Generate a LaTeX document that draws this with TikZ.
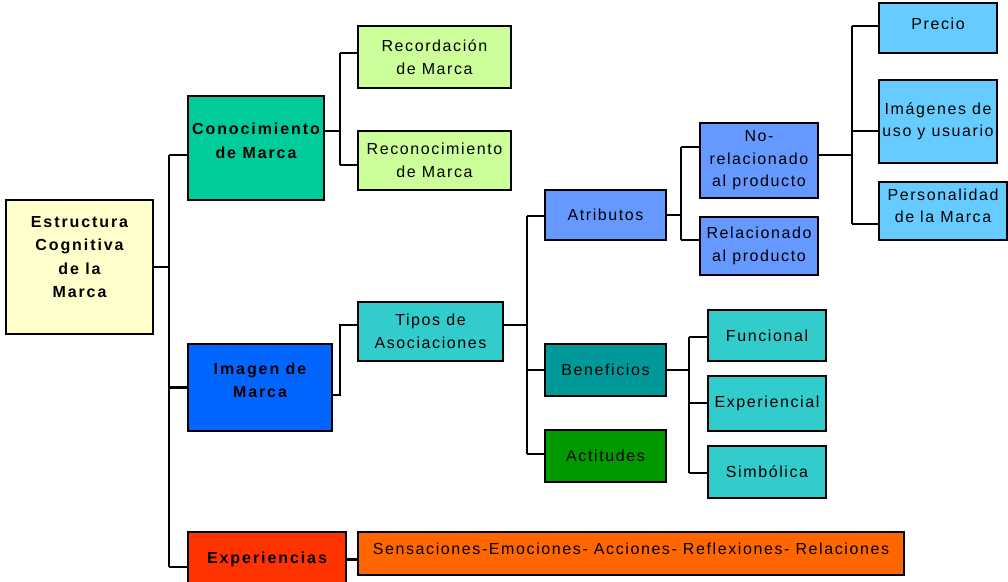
\documentclass[tikz,border=0pt]{standalone}
\usepackage{fontspec}
\setmainfont{Liberation Sans}
\newfontfamily\rfont[LetterSpace=10]{Liberation Sans}
\newfontfamily\lfont[LetterSpace=12]{Liberation Sans}
\usetikzlibrary{calc}
\definecolor{cRoot}{HTML}{FFFFCC}
\definecolor{cConoc}{HTML}{00CC99}
\definecolor{cLime}{HTML}{CCFF99}
\definecolor{cImagen}{HTML}{0066FF}
\definecolor{cTeal}{HTML}{33CCCC}
\definecolor{cAtrib}{HTML}{6699FF}
\definecolor{cSky}{HTML}{66CCFF}
\definecolor{cBenef}{HTML}{009999}
\definecolor{cActit}{HTML}{009900}
\definecolor{cExper}{HTML}{FF3300}
\definecolor{cSens}{HTML}{FF6600}
\begin{document}
\begin{tikzpicture}[x=1pt,y=-1pt,
  box/.style={draw=black, line width=2.7pt, inner sep=0pt, outer sep=0pt, anchor=north west, align=center,
    font=\rfont\fontsize{16}{22.5}\selectfont},
  lbox/.style={box, font=\lfont\bfseries\fontsize{16}{23.5}\selectfont},
  rtxt/.style={align=center, inner sep=0pt, font=\rfont\fontsize{16}{22.5}\selectfont},
  ltxt/.style={align=center, inner sep=0pt, font=\lfont\bfseries\fontsize{16}{23.5}\selectfont},
  conn/.style={draw=black, line width=2.7pt, line join=miter}]
\useasboundingbox (0,0) rectangle (1008,581);
% boxes
\node[lbox, fill=cRoot, minimum width=147, minimum height=134] (root) at (6,200) {};
\node[ltxt] (rootT) at ($(root.center)+(0,-10)$) {Estructura\\Cognitiva\\de la\\Marca};
\node[lbox, fill=cConoc, minimum width=136, minimum height=104] (conoc) at (188,96) {};
\node[ltxt] (conocT) at ($(conoc.center)+(0,-7)$) {Conocimiento\\de Marca};
\node[box, fill=cLime, minimum width=153, minimum height=62] (recor) at (358,26) {Recordación\\de Marca};
\node[box, fill=cLime, minimum width=153, minimum height=59] (recon) at (358,131) {Reconocimiento\\de Marca};
\node[lbox, fill=cImagen, minimum width=144, minimum height=87] (imagen) at (188,344) {};
\node[ltxt] (imagenT) at ($(imagen.center)+(0,-7)$) {Imagen de\\Marca};
\node[box, fill=cTeal, minimum width=145, minimum height=59] (tipos) at (358,302) {Tipos de\\Asociaciones};
\node[box, fill=cAtrib, minimum width=121, minimum height=50] (atrib) at (545,190) {Atributos};
\node[box, fill=cAtrib, minimum width=118, minimum height=75] (norel) at (700,123) {No-\\relacionado\\al producto};
\node[box, fill=cAtrib, minimum width=118, minimum height=58] (relac) at (700,217) {Relacionado\\al producto};
\node[box, fill=cSky, minimum width=118, minimum height=50] (precio) at (879,3) {};
\node[rtxt] (precioT) at ($(precio.center)+(0,-4)$) {Precio};
\node[box, fill=cSky, minimum width=118, minimum height=83] (imagenes) at (879,80) {Imágenes de\\uso y usuario};
\node[box, fill=cSky, minimum width=128, minimum height=58] (person) at (879,182) {};
\node[rtxt] (personT) at ($(person.center)+(0,-5)$) {Personalidad\\de la Marca};
\node[box, fill=cBenef, minimum width=121, minimum height=52] (benef) at (545,344) {Beneficios};
\node[box, fill=cActit, minimum width=121, minimum height=52] (actit) at (545,430) {Actitudes};
\node[box, fill=cTeal, minimum width=118, minimum height=51] (func) at (708,310) {Funcional};
\node[box, fill=cTeal, minimum width=118, minimum height=55] (experi) at (708,376) {Experiencial};
\node[box, fill=cTeal, minimum width=118, minimum height=52] (simb) at (708,446) {Simbólica};
\node[lbox, fill=cExper, minimum width=158, minimum height=55] (exper) at (188,532) {Experiencias};
\node[box, fill=cSens, minimum width=546, minimum height=43] (sens) at (358,532) {};
\node[rtxt] (sensT) at ($(sens.center)+(0,-5)$) {Sensaciones-Emociones- Acciones- Reflexiones- Relaciones};
% root connectors
\coordinate (r1) at (169,155);
\coordinate (r2) at (169,567);
\draw[conn] (root.east) -- (root.east -| r1);
\draw[conn] (r1) -- (r2);
\draw[conn] (r1) -- (r1 -| conoc.west);
\draw[conn] (imagen.west -| r1) -- (imagen.west);
\draw[conn] (r2) -- (r2 -| exper.west);
% conocimiento
\coordinate (c0) at (340,131);
\coordinate (c1) at (340,53);
\coordinate (c2) at (340,165);
\draw[conn] (conoc.east |- c0) -- (c0);
\draw[conn] (c1) -- (c2);
\draw[conn] (c1) -- (c1 -| recor.west);
\draw[conn] (c2) -- (c2 -| recon.west);
% imagen
\coordinate (i0) at (340,395);
\coordinate (i1) at (340,325);
\draw[conn] (imagen.east |- i0) -- (i0) -- (i1) -- (i1 -| tipos.west);
% tipos
\coordinate (t0) at (527,325);
\coordinate (t1) at (527,216);
\coordinate (t2) at (527,454);
\draw[conn] (tipos.east |- t0) -- (t0);
\draw[conn] (t1) -- (t2);
\draw[conn] (t1) -- (t1 -| atrib.west);
\draw[conn] (benef.west -| t0) -- (benef.west);
\draw[conn] (t2) -- (t2 -| actit.west);
% atributos
\coordinate (a1) at (681,147);
\coordinate (a2) at (681,240);
\draw[conn] (atrib.east) -- (atrib.east -| a1);
\draw[conn] (a1) -- (a2);
\draw[conn] (a1) -- (a1 -| norel.west);
\draw[conn] (a2) -- (a2 -| relac.west);
% no relacionado
\coordinate (n0) at (852,155);
\coordinate (n1) at (852,26);
\coordinate (n2) at (852,131);
\coordinate (n3) at (852,224);
\draw[conn] (norel.east |- n0) -- (n0);
\draw[conn] (n1) -- (n3);
\draw[conn] (n1) -- (n1 -| precio.west);
\draw[conn] (n2) -- (n2 -| imagenes.west);
\draw[conn] (n3) -- (n3 -| person.west);
% beneficios
\coordinate (b1) at (689,337);
\coordinate (b2) at (689,403);
\coordinate (b3) at (689,473);
\draw[conn] (benef.east) -- (benef.east -| b1);
\draw[conn] (b1) -- (b3);
\draw[conn] (b1) -- (b1 -| func.west);
\draw[conn] (b2) -- (b2 -| experi.west);
\draw[conn] (b3) -- (b3 -| simb.west);
% experiencias
\draw[conn] (exper.east) -- (exper.east -| sens.west);
\end{tikzpicture}
\end{document}
